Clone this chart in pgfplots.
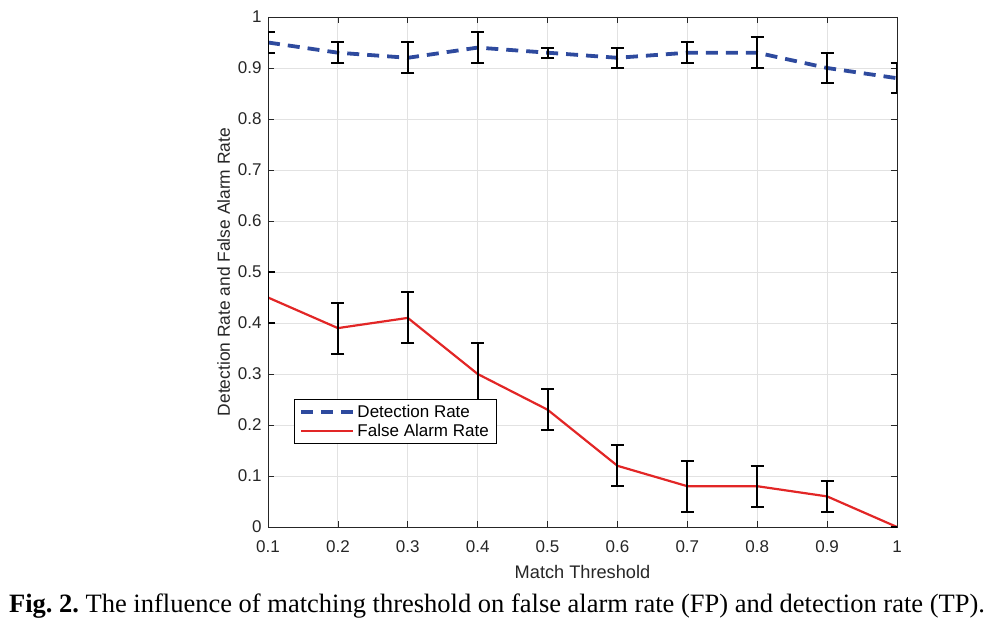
\documentclass[border=0pt]{standalone}
\usepackage{pgfplots}
\pgfplotsset{compat=1.18}
\usepackage{fontspec}
\setmainfont{Liberation Sans}
\newfontfamily\capfont{Liberation Serif}
\usetikzlibrary{calc}
\definecolor{dblue}{RGB}{46,74,158}
\definecolor{dred}{RGB}{226,38,38}
\definecolor{gridc}{RGB}{226,226,226}
\definecolor{axc}{RGB}{38,38,38}
\frenchspacing
\begin{document}
\begin{tikzpicture}
\begin{axis}[
  scale only axis, width=629pt, height=510pt,
  xmin=0.1, xmax=1, ymin=0, ymax=1,
  xtick={0.1,0.2,0.3,0.4,0.5,0.6,0.7,0.8,0.9,1},
  xticklabels={0.1,0.2,0.3,0.4,0.5,0.6,0.7,0.8,0.9,1},
  ytick={0,0.1,0.2,0.3,0.4,0.5,0.6,0.7,0.8,0.9,1},
  yticklabels={0,0.1,0.2,0.3,0.4,0.5,0.6,0.7,0.8,0.9,1},
  tick align=inside, major tick length=6pt,
  tick style={axc, line width=0.6pt},
  grid=major, grid style={gridc, line width=0.8pt},
  axis line style={axc, line width=0.8pt},
  ticklabel style={font=\fontsize{17}{17}\selectfont, text=axc},
  xticklabel style={yshift=-10pt},
  yticklabel style={xshift=-3pt},
  xlabel={Match Threshold},
  ylabel={Detection Rate and False Alarm Rate},
  xlabel style={font=\fontsize{18.2}{18.2}\selectfont, text=axc, yshift=-6pt},
  ylabel style={font=\fontsize{17.4}{17.4}\selectfont, text=axc, yshift=1pt},
  legend style={at={(rel axis cs:0.041,0.251)}, anchor=north west,
    draw=black, line width=0.8pt, font=\fontsize{17}{17}\selectfont,
    inner xsep=5pt, inner ysep=3pt, row sep=0pt, fill=white,
    nodes={inner sep=2.5pt}},
  legend cell align=left,
  legend image code/.code={\draw[#1] (0pt,0pt) -- (52pt,0pt);},
]
\coordinate (bl) at (rel axis cs:0,0);
\coordinate (tr) at (rel axis cs:1,1);
\addplot[dblue, line width=3.8pt, dash pattern=on 12pt off 8pt,
  error bars/.cd, y dir=both, y explicit,
  error bar style={black, line width=2pt, solid},
  error mark options={black, line width=2pt, rotate=90, mark size=6.5pt, solid}]
  table[x=x, y=y, y error=e] {
x y e
0.1 0.95 0.02
0.2 0.93 0.02
0.3 0.92 0.03
0.4 0.94 0.03
0.5 0.93 0.01
0.6 0.92 0.02
0.7 0.93 0.02
0.8 0.93 0.03
0.9 0.90 0.03
1.0 0.88 0.03
};
\addlegendentry{Detection Rate}
\addplot[dred, line width=2.2pt,
  error bars/.cd, y dir=both, y explicit,
  error bar style={black, line width=2pt, solid},
  error mark options={black, line width=2pt, rotate=90, mark size=6.5pt, solid}]
  table[x=x, y=y, y error=e] {
x y e
0.1 0.45 0.05
0.2 0.39 0.05
0.3 0.41 0.05
0.4 0.30 0.06
0.5 0.23 0.04
0.6 0.12 0.04
0.7 0.08 0.05
0.8 0.08 0.04
0.9 0.06 0.03
1.0 0.00 0.00
};
\addlegendentry{False Alarm Rate}
\end{axis}
\node[font=\capfont\fontsize{26.5}{26.5}\selectfont, inner sep=0pt] at ($(bl)+(229pt,-79pt)$)
  {\textbf{Fig. 2.} The influence of matching threshold on false alarm rate (FP) and detection rate (TP).};
\pgfresetboundingbox
\path[use as bounding box] ($(bl)+(-268pt,-97pt)$) rectangle ($(tr)+(102pt,17pt)$);
\end{tikzpicture}
\end{document}
